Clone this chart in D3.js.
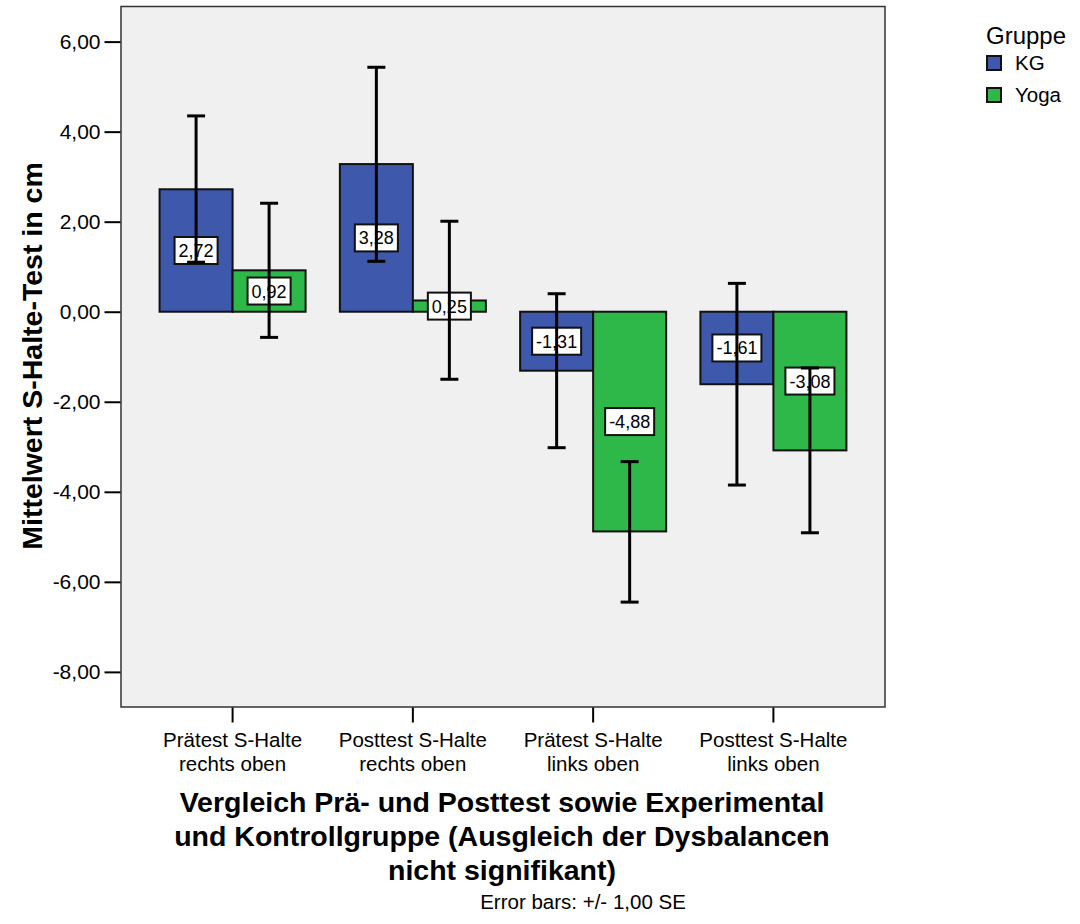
<!DOCTYPE html>
<html>
<head>
<meta charset="utf-8">
<script src="https://cdn.jsdelivr.net/npm/d3@7"></script>
<style>
  html, body { margin: 0; padding: 0; background: #fff; }
  svg { display: block; font-family: "Liberation Sans", Arial, sans-serif; }
</style>
</head>
<body>
<svg id="chart" width="1080" height="924"></svg>
<script>
// Categories on the x axis (two-line labels)
const categories = [
  ["Prätest S-Halte", "rechts oben"],
  ["Posttest S-Halte", "rechts oben"],
  ["Prätest S-Halte", "links oben"],
  ["Posttest S-Halte", "links oben"]
];
const groups = ["KG", "Yoga"];
const groupColors = ["#3e58ac", "#2fb84a"];

// Means per group
const meanKG   = [2.72, 3.28, -1.31, -1.61];
const meanYoga = [0.92, 0.25, -4.88, -3.08];

// Error bar ends (+/- 1 SE)
const upperKG   = [4.35, 5.43, 0.40, 0.63];
const lowerKG   = [1.10, 1.12, -3.02, -3.85];
const upperYoga = [2.41, 2.01, -3.33, -1.25];
const lowerYoga = [-0.57, -1.50, -6.45, -4.91];

const yTicks = [6, 4, 2, 0, -2, -4, -6, -8];

const titleLines = [
  "Vergleich Prä- und Posttest sowie Experimental",
  "und Kontrollgruppe (Ausgleich der Dysbalancen",
  "nicht signifikant)"
];
const yTitle = "Mittelwert S-Halte-Test in cm";
const legendTitle = "Gruppe";
const footnote = "Error bars: +/- 1,00 SE";

const svg = d3.select("#chart");

const plot = { left: 121, right: 885, top: 6.5, bottom: 707 };

const catKeys = categories.map((c, i) => i);
const x = d3.scaleBand()
  .domain(catKeys)
  .range([plot.left, plot.right])
  .paddingInner(0.19)
  .paddingOuter(0.214);

const xg = d3.scaleBand()
  .domain(groups)
  .range([0, x.bandwidth()]);

const y = d3.scaleLinear()
  .domain([-8.78, 6.78])
  .range([plot.bottom, plot.top]);

const fmt = v => d3.format(".2f")(v).replace(".", ",").replace("−", "-");

// Plot background and frame
svg.append("rect")
  .attr("x", plot.left).attr("y", plot.top)
  .attr("width", plot.right - plot.left)
  .attr("height", plot.bottom - plot.top)
  .attr("fill", "#f0f0f0")
  .attr("stroke", "#333")
  .attr("stroke-width", 1.5);

// Y axis
const yAxis = d3.axisLeft(y)
  .tickValues(yTicks)
  .tickSize(16)
  .tickPadding(4)
  .tickFormat(fmt);
const yAxisG = svg.append("g")
  .attr("transform", `translate(${plot.left - 0.5},0)`)
  .call(yAxis);
yAxisG.select(".domain").remove();
yAxisG.selectAll(".tick line").attr("stroke", "#000").attr("stroke-width", 2);
yAxisG.selectAll(".tick text")
  .attr("font-size", "21px")
  .attr("font-family", "Liberation Sans, Arial, sans-serif")
  .attr("fill", "#000");

// X axis
const xAxis = d3.axisBottom(x).tickSize(15).tickFormat("");
const xAxisG = svg.append("g")
  .attr("transform", `translate(0,${plot.bottom + 0.5})`)
  .call(xAxis);
xAxisG.select(".domain").remove();
xAxisG.selectAll(".tick line").attr("stroke", "#000").attr("stroke-width", 2);

categories.forEach((lines, i) => {
  const cx = x(i) + x.bandwidth() / 2;
  const t = svg.append("text")
    .attr("x", cx)
    .attr("y", 747)
    .attr("text-anchor", "middle")
    .attr("font-size", "20.5px")
    .attr("fill", "#000");
  lines.forEach((ln, j) => {
    t.append("tspan").attr("x", cx).attr("dy", j === 0 ? 0 : 23.5).text(ln);
  });
});

// Build rows from the arrays
const series = [
  { key: "KG", mean: meanKG, upper: upperKG, lower: lowerKG, color: groupColors[0] },
  { key: "Yoga", mean: meanYoga, upper: upperYoga, lower: lowerYoga, color: groupColors[1] }
];
const rows = [];
series.forEach(s => {
  catKeys.forEach(i => {
    rows.push({ cat: i, group: s.key, mean: s.mean[i], upper: s.upper[i], lower: s.lower[i], color: s.color });
  });
});

// Bars
svg.append("g").selectAll("rect")
  .data(rows)
  .join("rect")
  .attr("x", d => x(d.cat) + xg(d.group))
  .attr("y", d => y(Math.max(0, d.mean)))
  .attr("width", xg.bandwidth())
  .attr("height", d => Math.abs(y(d.mean) - y(0)))
  .attr("fill", d => d.color)
  .attr("stroke", "#111")
  .attr("stroke-width", 2);

// Value labels in white boxes at half height of each bar
const labelG = svg.append("g").selectAll("g")
  .data(rows)
  .join("g")
  .attr("transform", d => `translate(${x(d.cat) + xg(d.group) + xg.bandwidth() / 2},${y(d.mean / 2)})`);
labelG.each(function(d) {
  const g = d3.select(this);
  const txt = g.append("text")
    .attr("text-anchor", "middle")
    .attr("dy", "0.36em")
    .attr("font-size", "18px")
    .attr("fill", "#000")
    .text(fmt(d.mean));
  const w = txt.node().getComputedTextLength();
  g.insert("rect", "text")
    .attr("x", -w / 2 - 4)
    .attr("y", -13.5)
    .attr("width", w + 8)
    .attr("height", 27)
    .attr("fill", "#fff")
    .attr("stroke", "#111")
    .attr("stroke-width", 2);
});

// Error bars
const capHalf = 9;
const eb = svg.append("g").attr("stroke", "#000").attr("stroke-width", 3).attr("fill", "none");
rows.forEach(d => {
  const cx = x(d.cat) + xg(d.group) + xg.bandwidth() / 2;
  eb.append("line").attr("x1", cx).attr("x2", cx).attr("y1", y(d.upper)).attr("y2", y(d.lower));
  eb.append("line").attr("x1", cx - capHalf).attr("x2", cx + capHalf).attr("y1", y(d.upper)).attr("y2", y(d.upper));
  eb.append("line").attr("x1", cx - capHalf).attr("x2", cx + capHalf).attr("y1", y(d.lower)).attr("y2", y(d.lower));
});

// Y axis title
svg.append("text")
  .attr("transform", "translate(42,356) rotate(-90)")
  .attr("text-anchor", "middle")
  .attr("font-size", "28.5px")
  .attr("font-weight", "bold")
  .attr("fill", "#000")
  .text(yTitle);

// Chart title below the x axis
const title = svg.append("text")
  .attr("text-anchor", "middle")
  .attr("font-size", "28.5px")
  .attr("font-weight", "bold")
  .attr("fill", "#000");
titleLines.forEach((ln, j) => {
  title.append("tspan")
    .attr("x", 502)
    .attr("y", 812 + j * 34)
    .text(ln);
});

// Footnote
svg.append("text")
  .attr("x", 583)
  .attr("y", 909)
  .attr("text-anchor", "middle")
  .attr("font-size", "20.5px")
  .attr("fill", "#000")
  .text(footnote);

// Legend
const legend = svg.append("g");
legend.append("text")
  .attr("x", 986)
  .attr("y", 44)
  .attr("font-size", "24px")
  .attr("fill", "#000")
  .text(legendTitle);
groups.forEach((g, i) => {
  const yy = 56 + i * 32;
  legend.append("rect")
    .attr("x", 987).attr("y", yy)
    .attr("width", 14).attr("height", 14)
    .attr("fill", groupColors[i])
    .attr("stroke", "#111")
    .attr("stroke-width", 2);
  legend.append("text")
    .attr("x", 1015)
    .attr("y", yy + 13.5)
    .attr("font-size", "20.5px")
    .attr("fill", "#000")
    .text(g);
});
</script>
</body>
</html>
